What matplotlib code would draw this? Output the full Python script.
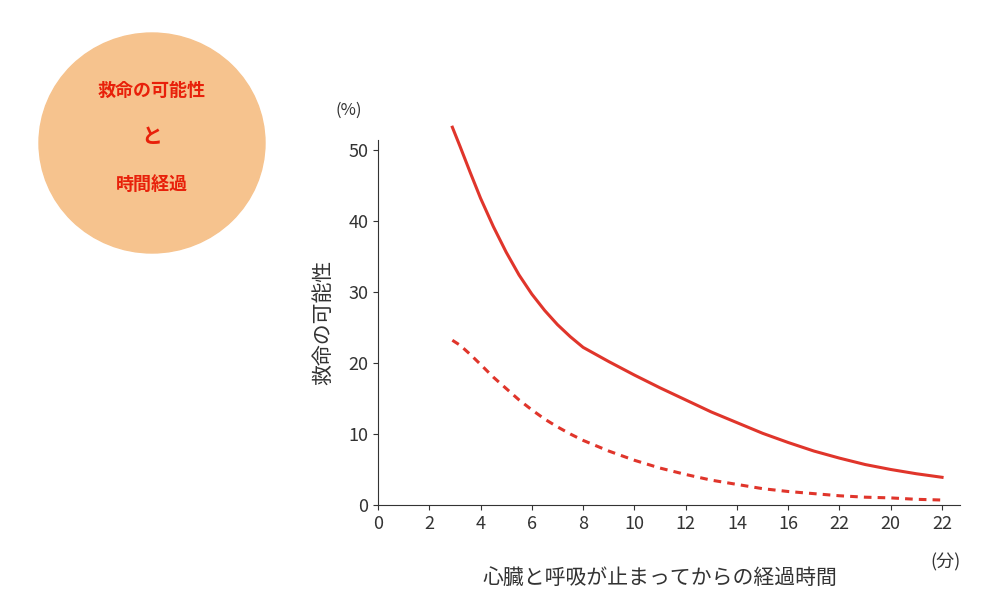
import matplotlib
matplotlib.use("Agg")
import matplotlib.pyplot as plt
from matplotlib.patches import Ellipse

x_vals = [2.9, 3.2, 3.6, 4, 4.5, 5, 5.5, 6, 6.5, 7, 7.5, 8, 9, 10, 11, 12, 13, 14, 15, 16, 17, 18, 19, 20, 21, 22]
solid_vals = [53.2, 50.5, 46.8, 43.2, 39.2, 35.6, 32.4, 29.7, 27.4, 25.4, 23.7, 22.2, 20.2, 18.3, 16.5, 14.8, 13.1, 11.6, 10.1, 8.8, 7.6, 6.6, 5.7, 5.0, 4.4, 3.9]
dashed_vals = [23.2, 22.5, 21.2, 19.8, 18.0, 16.4, 14.8, 13.4, 12.1, 11.0, 10.0, 9.1, 7.6, 6.3, 5.2, 4.3, 3.5, 2.9, 2.3, 1.9, 1.6, 1.3, 1.1, 1.0, 0.8, 0.7]
xticks = [0, 2, 4, 6, 8, 10, 12, 14, 16, 18, 20, 22]
xtick_labels = ["0", "2", "4", "6", "8", "10", "12", "14", "16", "22", "20", "22"]
yticks = [0, 10, 20, 30, 40, 50]

plt.rcParams["font.family"] = "Noto Sans CJK JP"
fig = plt.figure(figsize=(9.96, 5.96), dpi=100)
ax = fig.add_axes([378/996, 91/596, 582/996, 365/596])
red = "#E0352B"
ax.plot(x_vals, solid_vals, color=red, lw=2.2, clip_on=False)
ax.plot(x_vals, dashed_vals, color=red, lw=2.2, ls=(0, (2.5, 2)), clip_on=False)
ax.set_xlim(0, 22.7)
ax.set_ylim(0, 51.4)
ax.set_xticks(xticks)
ax.set_xticklabels(xtick_labels)
ax.set_yticks(yticks)
for s in ["top", "right"]:
    ax.spines[s].set_visible(False)
for s in ["left", "bottom"]:
    ax.spines[s].set_color("#333333")
ax.tick_params(colors="#333333", labelsize=13, direction="out")
ax.set_xlabel("心臓と呼吸が止まってからの経過時間", fontsize=15, color="#333333", labelpad=14)
ax.xaxis.set_label_coords(0.485, -0.17)
ax.set_ylabel("救命の可能性", fontsize=15, color="#333333", labelpad=10)
fig.text(349/996, 1-110/596, "(%)", fontsize=12, color="#333333", ha="center", va="center")
fig.text(945/996, 1-562/596, "(分)", fontsize=13, color="#333333", ha="center", va="center")

c = Ellipse((152/996, 1-143/596), 226/996, 220/596, transform=fig.transFigure,
            color="#F6C38E", zorder=0)
fig.patches.append(c)
for t, yy, fs in [("救命の可能性", 90, 13), ("と", 137, 15), ("時間経過", 184, 13)]:
    fig.text(152/996, 1-yy/596, t, fontsize=fs, color="#E8200A", fontweight="bold",
             ha="center", va="center")
fig.savefig("out.png", dpi=100)
